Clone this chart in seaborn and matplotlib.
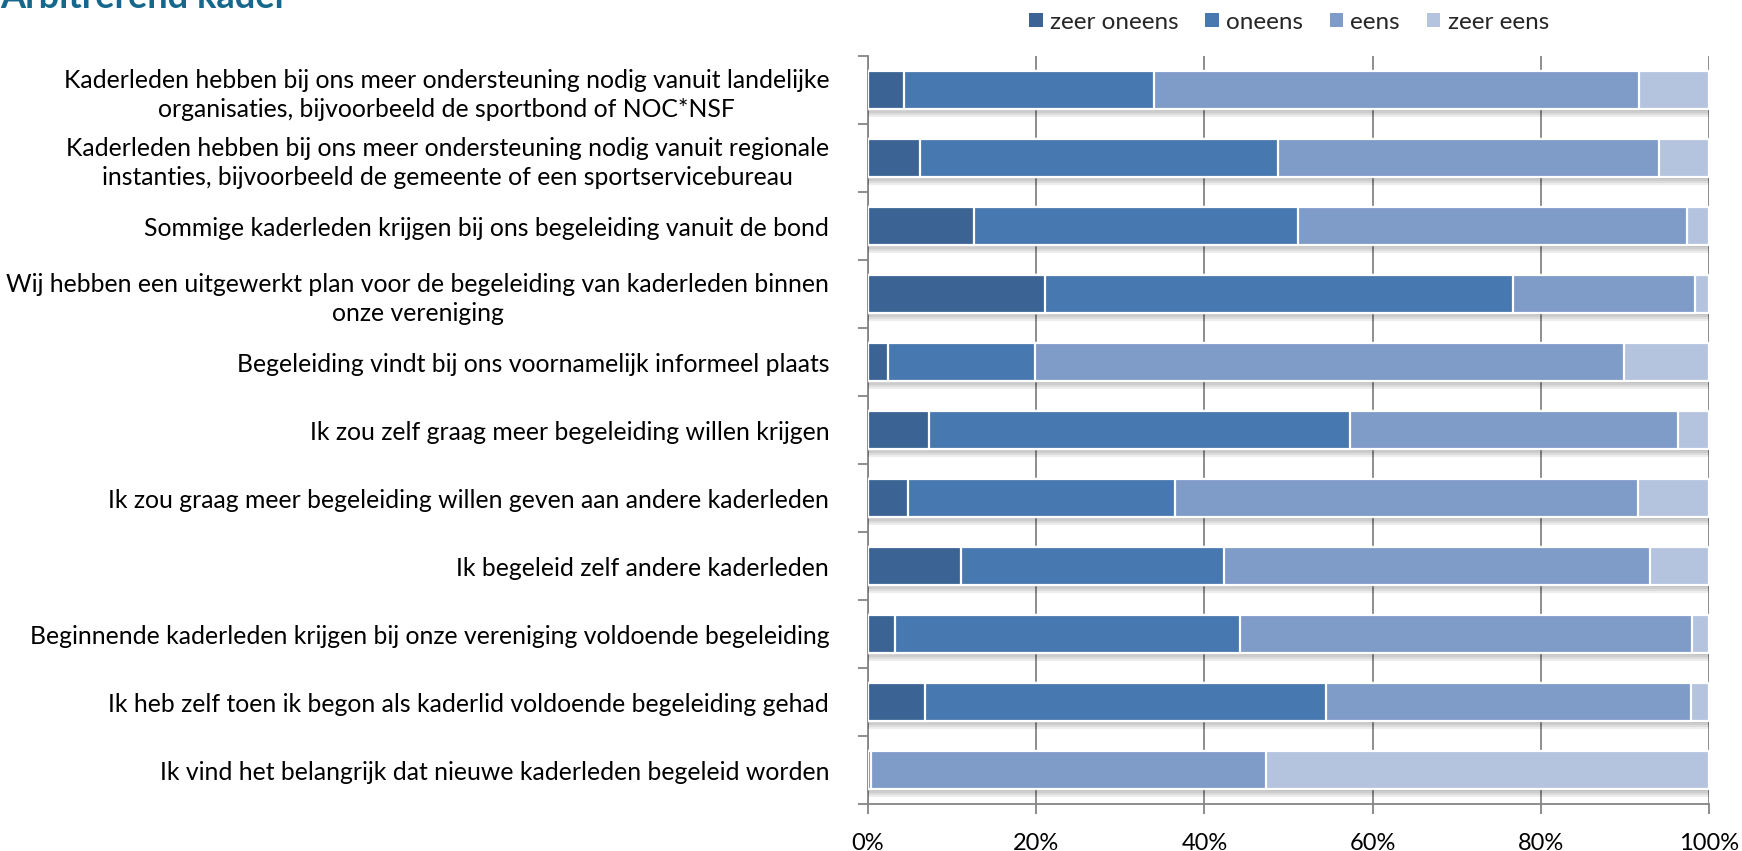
import numpy as np
import pandas as pd
import matplotlib
matplotlib.use("Agg")
import matplotlib.pyplot as plt
import matplotlib.patheffects as pe
from matplotlib.patches import Patch
from matplotlib.ticker import FixedLocator, PercentFormatter
import seaborn as sns

# statements, top to bottom
statements = [
    "Kaderleden hebben bij ons meer ondersteuning nodig vanuit landelijke\norganisaties, bijvoorbeeld de sportbond of NOC*NSF",
    "Kaderleden hebben bij ons meer ondersteuning nodig vanuit regionale\ninstanties, bijvoorbeeld de gemeente of een sportservicebureau",
    "Sommige kaderleden krijgen bij ons begeleiding vanuit de bond",
    "Wij hebben een uitgewerkt plan voor de begeleiding van kaderleden binnen\nonze vereniging",
    "Begeleiding vindt bij ons voornamelijk informeel plaats",
    "Ik zou zelf graag meer begeleiding willen krijgen",
    "Ik zou graag meer begeleiding willen geven aan andere kaderleden",
    "Ik begeleid zelf andere kaderleden",
    "Beginnende kaderleden krijgen bij onze vereniging voldoende begeleiding",
    "Ik heb zelf toen ik begon als kaderlid voldoende begeleiding gehad",
    "Ik vind het belangrijk dat nieuwe kaderleden begeleid worden",
]

answers = ["zeer oneens", "oneens", "eens", "zeer eens"]

# percentages
zeer_oneens = [4.3, 6.2, 12.6, 21.0, 2.4, 7.3, 4.7, 11.0, 3.2, 6.8, 0.0]
oneens = [29.7, 42.6, 38.5, 55.7, 17.5, 50.0, 31.8, 31.3, 41.0, 47.6, 0.3]
eens = [57.7, 45.2, 46.3, 21.6, 70.0, 39.0, 55.0, 50.7, 53.8, 43.5, 47.0]
zeer_eens = [8.3, 6.0, 2.6, 1.7, 10.1, 3.7, 8.5, 7.0, 2.0, 2.1, 52.7]

colors = ["#3b6495", "#4878b0", "#7f9bc8", "#b4c3de"]

df = pd.DataFrame({
    "stelling": statements,
    "zeer oneens": zeer_oneens,
    "oneens": oneens,
    "eens": eens,
    "zeer eens": zeer_eens,
})
cum = df[answers].cumsum(axis=1)

sns.set_style("white")
plt.rcParams["font.family"] = ["Lato", "DejaVu Sans"]

fig = plt.figure(figsize=(17.42, 8.51), dpi=100)
ax = fig.add_axes([0.4983, 0.0552, 0.4828, 0.8790])

# stacked bars: draw cumulative totals from the outside in
for i in range(len(answers) - 1, -1, -1):
    sns.barplot(x=cum[answers[i]], y=df["stelling"], orient="h", color=colors[i],
                width=0.56, edgecolor="white", linewidth=1.6, saturation=1,
                ax=ax, zorder=3)

# soft shadow under the full bars
shadow = [pe.SimplePatchShadow(offset=(0, -k), shadow_rgbFace="black", alpha=0.07)
          for k in (1.5, 3, 4.5, 6)]
for bar in ax.patches[:len(statements)]:
    bar.set_path_effects(shadow + [pe.Normal()])

ax.set_xlim(0, 100)
ax.set_ylim(len(statements) - 0.5, -0.5)
ax.xaxis.set_major_locator(FixedLocator([0, 20, 40, 60, 80, 100]))
ax.xaxis.set_major_formatter(PercentFormatter(decimals=0))
ax.grid(axis="x", color="#858585", linewidth=1.3, zorder=0)
ax.set_axisbelow(True)
ax.set_xlabel("")
ax.set_ylabel("")

ax.set_yticks(range(len(statements)))
ax.set_yticklabels(statements, ma="center", linespacing=1.3)
ax.yaxis.set_minor_locator(FixedLocator(np.arange(-0.5, len(statements), 1.0)))
ax.tick_params(axis="y", which="major", length=0, pad=28, labelsize=17.8, labelcolor="black")
ax.tick_params(axis="y", which="minor", left=True, length=7, width=1.3, color="#858585")
ax.tick_params(axis="x", which="major", bottom=True, length=7, width=1.3, color="#858585",
               pad=14, labelsize=17, labelcolor="black")

for side in ["top", "right"]:
    ax.spines[side].set_visible(False)
for side in ["left", "bottom"]:
    ax.spines[side].set_color("#858585")
    ax.spines[side].set_linewidth(1.3)

handles = [Patch(facecolor=c, edgecolor="none") for c in colors]
fig.legend(handles, answers, loc="center", bbox_to_anchor=(0.74, 0.974), ncol=4,
           frameon=False, fontsize=17.5, handlelength=0.55, handleheight=0.55,
           handletextpad=0.3, columnspacing=1.1)

# page title, cut off at the top of the image
fig.text(0.0, 1 - 8 / 851, "Arbitrerend kader", fontsize=26, fontweight="bold",
         color="#15688b", ha="left", va="baseline")

fig.savefig("out.png", dpi=100)
